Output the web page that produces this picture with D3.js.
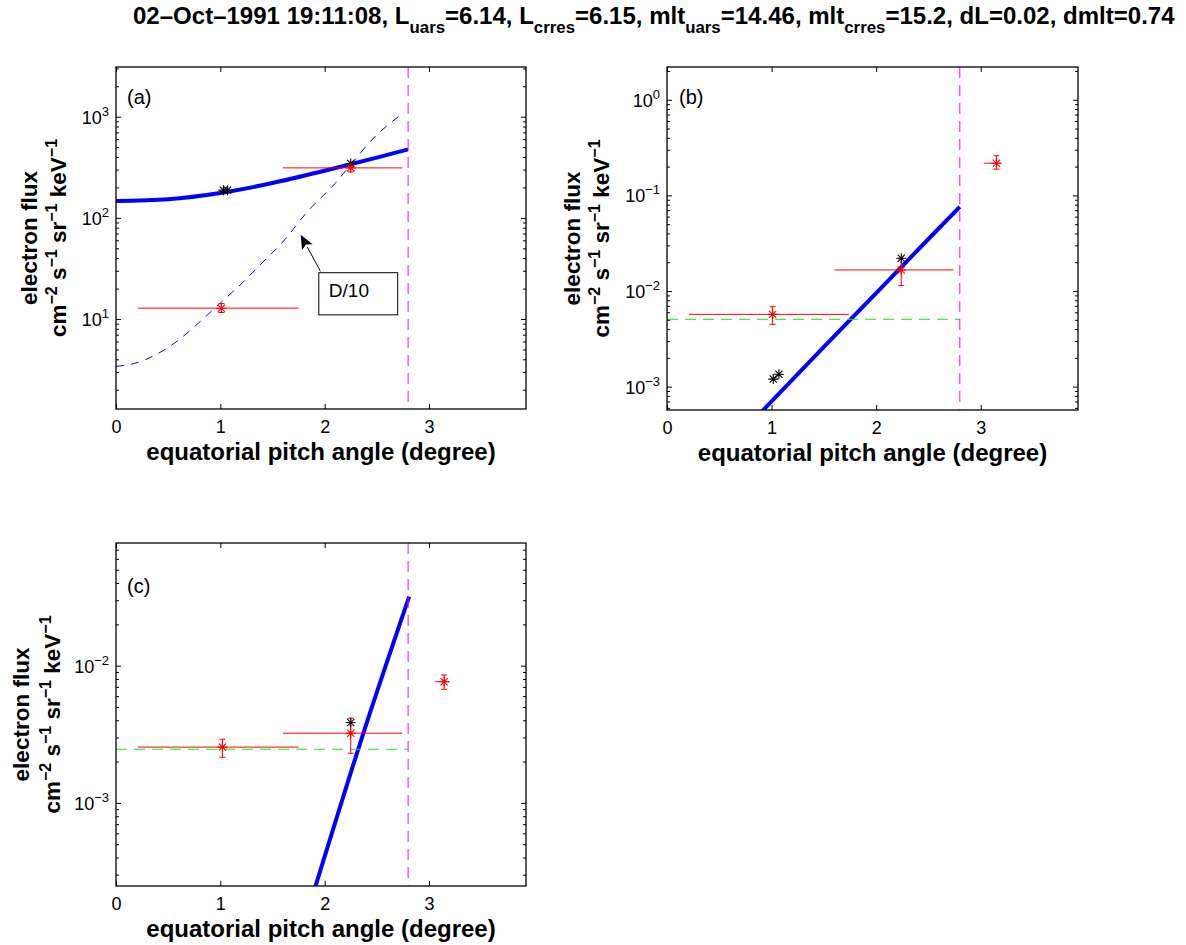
<!DOCTYPE html>
<html>
<head>
<meta charset="utf-8">
<script src="https://cdn.jsdelivr.net/npm/d3@7"></script>
<style>
body { margin:0; background:#fff; }
svg { display:block; }
text { font-family:"Liberation Sans", Arial, Helvetica, sans-serif; }
</style>
</head>
<body>
<div id="hook"></div>
<script>
// ---- data ----
var xTicks = [0, 1, 2, 3];
var xMax = 3.93;
var edgeAngle = 2.8;   // dashed vertical line

// panel (a)
var aFitX  = [0, 0.5, 1.0, 1.5, 2.0, 2.5, 2.8];
var aFitY  = [147, 153, 176, 221, 292, 394, 475];
var aDX    = [0, 0.22, 0.41, 0.6, 0.79, 1.0, 1.21, 1.4, 1.59, 1.85, 2.1, 2.26, 2.48, 2.76];
var aDY    = [3.4, 3.75, 4.6, 6.2, 9.1, 14.4, 22.7, 35.8, 56.5, 120, 219, 347, 630, 1100];
var aRedX  = [1.01, 2.25];
var aRedX0 = [0.21, 1.60];
var aRedX1 = [1.75, 2.745];
var aRedY  = [12.8, 312];
var aRedY0 = [11.6, 285];
var aRedY1 = [14.2, 345];
var aBlkX  = [1.03, 1.07, 2.25];
var aBlkY  = [188, 188, 345];
var aYTicks = [10, 100, 1000];

// panel (b)
var bFitX  = [0.9, 1.5, 2.0, 2.5, 2.8];
var bFitY  = [5.4e-4, 2.6e-3, 9.5e-3, 0.035, 0.076];
var bRedX  = [1.01, 2.24, 3.15];
var bRedX0 = [0.21, 1.60, 3.03];
var bRedX1 = [1.74, 2.74, 3.20];
var bRedY  = [0.0057, 0.0166, 0.217];
var bRedY0 = [0.00448, 0.0114, 0.188];
var bRedY1 = [0.00686, 0.022, 0.26];
var bBlkX  = [1.016, 1.07, 2.24];
var bBlkY  = [0.0012, 0.00135, 0.022];
var bGreen = 0.00506;
var bYTicks = [1e-3, 1e-2, 1e-1, 1];

// panel (c)
var cFitX  = [1.9, 2.37, 2.81];
var cFitY  = [2.3e-4, 3.2e-3, 0.0318];
var cRedX  = [1.02, 2.25, 3.145];
var cRedX0 = [0.21, 1.60, 3.06];
var cRedX1 = [1.75, 2.745, 3.20];
var cRedY  = [0.00255, 0.00322, 0.00764];
var cRedY0 = [0.00215, 0.0023, 0.00673];
var cRedY1 = [0.00291, 0.00414, 0.00855];
var cBlkX  = [2.25];
var cBlkY  = [0.00385];
var cGreen = 0.00246;
var cYTicks = [1e-3, 1e-2];

function zip(xs, ys) { return xs.map(function(v, i) { return [v, ys[i]]; }); }
function reds(x, x0, x1, y, y0, y1) {
  return x.map(function(v, i) { return {x:v, x0:x0[i], x1:x1[i], y:y[i], y0:y0[i], y1:y1[i]}; });
}

var panels = [
  { label:"(a)", box:[116, 67, 526, 409], yDom:[1.29, 3100], yTicks:aYTicks,
    fit:zip(aFitX, aFitY), dashed:zip(aDX, aDY), red:reds(aRedX, aRedX0, aRedX1, aRedY, aRedY0, aRedY1),
    blk:zip(aBlkX, aBlkY), green:null, labelPos:[127, 104], ylab:[37, 66],
    note:{ text:"D/10", bx:[1.944, 2.70], by:[11.0, 28.7], tx:2.04, ty:16.4, from:[1.96, 29.6], to:[1.77, 68] } },
  { label:"(b)", box:[667, 67, 1078, 410], yDom:[5.7e-4, 2.2], yTicks:bYTicks,
    fit:zip(bFitX, bFitY), dashed:null, red:reds(bRedX, bRedX0, bRedX1, bRedY, bRedY0, bRedY1),
    blk:zip(bBlkX, bBlkY), green:bGreen, labelPos:[679, 104], ylab:[580, 609] },
  { label:"(c)", box:[116, 543, 526, 886], yDom:[2.48e-4, 0.0783], yTicks:cYTicks,
    fit:zip(cFitX, cFitY), dashed:null, red:reds(cRedX, cRedX0, cRedX1, cRedY, cRedY0, cRedY1),
    blk:zip(cBlkX, cBlkY), green:cGreen, labelPos:[127, 593], ylab:[29, 60] }
];

var svg = d3.select("#hook").append("svg")
    .attr("width", 1186)
    .attr("height", 945);

// title with subscripts, stretched to the reference width
var titleParts = [["02–Oct–1991 19:11:08, L", 0], ["uars", 1], ["=6.14, L", 0], ["crres", 1],
                  ["=6.15, mlt", 0], ["uars", 1], ["=14.46, mlt", 0], ["crres", 1], ["=15.2, dL=0.02, dmlt=0.74", 0]];
var title = svg.append("text")
    .attr("font-weight", "bold")
    .attr("font-size", 20);
var low = 0;
titleParts.forEach(function(p) {
  var t = title.append("tspan").text(p[0]);
  if (p[1] && !low) { t.attr("dy", 8).attr("font-size", 14); low = 1; }
  else if (p[1]) { t.attr("font-size", 14); }
  else if (low) { t.attr("dy", -8); low = 0; }
});
var tw = title.node().getComputedTextLength();
title.attr("transform", "translate(133,24) scale(" + (1042 / tw) + ",1.15)");

function minorTicks(dom) {
  var out = [];
  for (var e = Math.floor(Math.log10(dom[0])); e <= Math.ceil(Math.log10(dom[1])); e++)
    for (var k = 2; k <= 9; k++) {
      var v = k * Math.pow(10, e);
      if (v >= dom[0] && v <= dom[1]) out.push(v);
    }
  return out;
}

function star(g, px, py, r, color) {
  var d = r * 0.72;
  g.append("path")
    .attr("d", "M" + (px - r) + "," + py + "H" + (px + r) +
               "M" + px + "," + (py - r) + "V" + (py + r) +
               "M" + (px - d) + "," + (py - d) + "L" + (px + d) + "," + (py + d) +
               "M" + (px - d) + "," + (py + d) + "L" + (px + d) + "," + (py - d))
    .attr("stroke", color).attr("stroke-width", 1.1).attr("fill", "none");
}

function styleAxis(sel) {
  sel.select(".domain").remove();
  sel.selectAll("line").attr("stroke", "#000");
  sel.selectAll("text").attr("font-family", "Liberation Sans, Arial, sans-serif").attr("font-size", 18).attr("fill", "#000");
}

panels.forEach(function(p, i) {
  var L = p.box[0], T = p.box[1], R = p.box[2], B = p.box[3];
  var x = d3.scaleLinear().domain([0, xMax]).range([L, R]);
  var y = d3.scaleLog().domain(p.yDom).range([B, T]);
  var g = svg.append("g");

  var clipId = "clip" + i;
  g.append("clipPath").attr("id", clipId).append("rect")
    .attr("x", L).attr("y", T).attr("width", R - L).attr("height", B - T);
  var plot = g.append("g").attr("clip-path", "url(#" + clipId + ")");

  var line = d3.line().x(function(d) { return x(d[0]); }).y(function(d) { return y(d[1]); }).curve(d3.curveMonotoneX);

  // thick fit curve
  plot.append("path").datum(p.fit).attr("d", line)
    .attr("fill", "none").attr("stroke", "#0000ff").attr("stroke-width", 4);
  if (p.dashed) {
    plot.append("path").datum(p.dashed).attr("d", line)
      .attr("fill", "none").attr("stroke", "#0000ff").attr("stroke-width", 1).attr("stroke-dasharray", "8,7");
  }
  if (p.green) {
    plot.append("line").attr("x1", x(0)).attr("x2", x(edgeAngle)).attr("y1", y(p.green)).attr("y2", y(p.green))
      .attr("stroke", "#11ee11").attr("stroke-width", 1).attr("stroke-dasharray", "11,7");
  }
  plot.append("line").attr("x1", x(edgeAngle)).attr("x2", x(edgeAngle)).attr("y1", T).attr("y2", B)
    .attr("stroke", "#ff00ff").attr("stroke-width", 1).attr("stroke-dasharray", "11,7");

  // red bars
  p.red.forEach(function(d) {
    plot.append("line").attr("x1", x(d.x0)).attr("x2", x(d.x1)).attr("y1", y(d.y)).attr("y2", y(d.y))
      .attr("stroke", "#ff0000").attr("stroke-width", 1);
    var cx = x(d.x);
    plot.append("path")
      .attr("d", "M" + cx + "," + y(d.y0) + "V" + y(d.y1) +
                 "M" + (cx - 3) + "," + y(d.y0) + "H" + (cx + 3) +
                 "M" + (cx - 3) + "," + y(d.y1) + "H" + (cx + 3))
      .attr("stroke", "#ff0000").attr("stroke-width", 1).attr("fill", "none");
  });
  p.blk.forEach(function(d) { star(plot, x(d[0]), y(d[1]), 5, "#000"); });
  p.red.forEach(function(d) { star(plot, x(d.x), y(d.y), 5, "#ff0000"); });

  // annotation
  if (p.note) {
    var n = p.note;
    g.append("rect").attr("x", x(n.bx[0])).attr("y", y(n.by[1]))
      .attr("width", x(n.bx[1]) - x(n.bx[0])).attr("height", y(n.by[0]) - y(n.by[1]))
      .attr("fill", "#fff").attr("stroke", "#000").attr("stroke-width", 1);
    g.append("text").attr("x", x(n.tx)).attr("y", y(n.ty)).attr("font-size", 19).text(n.text);
    var x1 = x(n.from[0]), y1 = y(n.from[1]), x2 = x(n.to[0]), y2 = y(n.to[1]);
    var dx = x2 - x1, dy = y2 - y1, len = Math.sqrt(dx * dx + dy * dy);
    var ux = dx / len, uy = dy / len, hl = 14, hw = 6;
    var bx = x2 - ux * hl, by = y2 - uy * hl;
    g.append("line").attr("x1", x1).attr("y1", y1).attr("x2", bx).attr("y2", by).attr("stroke", "#000").attr("stroke-width", 1);
    g.append("path")
      .attr("d", "M" + x2 + "," + y2 + "L" + (bx - uy * hw) + "," + (by + ux * hw) + "L" + (bx + ux * 3) + "," + (by + uy * 3) +
                 "L" + (bx + uy * hw) + "," + (by - ux * hw) + "Z")
      .attr("fill", "#000");
  }

  // axes
  g.append("g").attr("transform", "translate(0," + B + ")")
    .call(d3.axisBottom(x).tickValues(xTicks).tickSize(-5).tickPadding(11).tickFormat(d3.format("d")))
    .call(styleAxis);
  g.append("g").attr("transform", "translate(0," + T + ")")
    .call(d3.axisTop(x).tickValues(xTicks).tickSize(-5).tickFormat(""))
    .call(styleAxis);
  var minors = minorTicks(p.yDom);
  [[d3.axisLeft, L], [d3.axisRight, R]].forEach(function(a) {
    g.append("g").attr("transform", "translate(" + a[1] + ",0)")
      .call(a[0](y).tickValues(p.yTicks).tickSize(-5).tickFormat(""))
      .call(styleAxis);
    g.append("g").attr("transform", "translate(" + a[1] + ",0)")
      .call(a[0](y).tickValues(minors).tickSize(-3).tickFormat(""))
      .call(styleAxis);
  });
  g.append("rect").attr("x", L).attr("y", T).attr("width", R - L).attr("height", B - T)
    .attr("fill", "none").attr("stroke", "#000").attr("stroke-width", 1.3);

  // log tick labels 10^n
  p.yTicks.forEach(function(v) {
    var e = Math.round(Math.log10(v));
    var t = g.append("text").attr("x", L - 7).attr("y", y(v) + 7).attr("text-anchor", "end").attr("font-size", 18);
    t.append("tspan").text("10");
    t.append("tspan").attr("dy", -8).attr("font-size", 13).text(String(e).replace("-", "\u2212"));
  });

  // panel label
  g.append("text").attr("x", p.labelPos[0]).attr("y", p.labelPos[1]).attr("font-size", 20).text(p.label);

  // x label
  g.append("text").attr("x", (L + R) / 2).attr("y", B + 51).attr("text-anchor", "middle")
    .attr("font-size", 24).attr("font-weight", "bold").text("equatorial pitch angle (degree)");

  // y label
  var cy = (T + B) / 2;
  g.append("text").attr("transform", "translate(" + p.ylab[0] + "," + cy + ") rotate(-90)")
    .attr("text-anchor", "middle").attr("font-size", 22.5).attr("font-weight", "bold").text("electron flux");
  var yl = g.append("text").attr("transform", "translate(" + p.ylab[1] + "," + cy + ") rotate(-90)")
    .attr("text-anchor", "middle").attr("font-size", 22.5).attr("font-weight", "bold");
  [["cm", "\u22122"], [" s", "\u22121"], [" sr", "\u22121"], [" keV", "\u22121"]].forEach(function(u, k) {
    var t = yl.append("tspan").text(u[0]);
    if (k > 0) t.attr("dy", 9);
    yl.append("tspan").attr("dy", -9).attr("font-size", 16).text(u[1]);
  });
});
</script>
</body>
</html>
